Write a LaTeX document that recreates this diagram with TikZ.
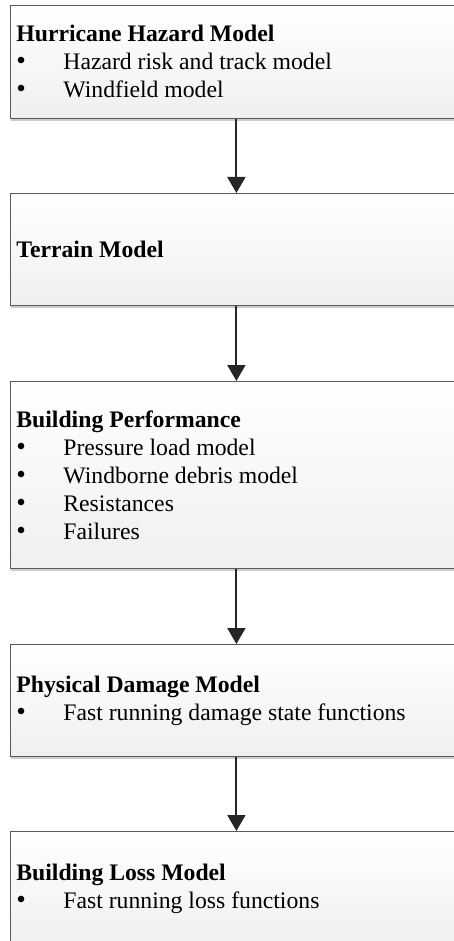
\documentclass[tikz,border=0pt]{standalone}
\usepackage{fontspec}
\setmainfont{Liberation Serif}
\usetikzlibrary{arrows.meta,shadows}

\tikzset{
  modelbox/.style={draw=gray!70!black, line width=0.8pt, top color=white, bottom color=gray!12,
    anchor=north west, text width=440pt, inner xsep=6pt, inner ysep=0pt, align=flush left,
    font=\fontsize{23.7}{28}\selectfont,
    drop shadow={shadow xshift=1pt, shadow yshift=-2.5pt, opacity=0.4}},
  flow/.style={line width=2pt, black!85, -{Triangle[width=18pt,length=16pt]}}
}
\newcommand{\itm}[1]{\makebox[47pt][l]{\smash{\scalebox{1.15}{\textbullet}}}#1}

\begin{document}
\begin{tikzpicture}[x=1pt,y=-1pt]
\useasboundingbox (0,0) rectangle (454,941);

% model stages
\node[modelbox, minimum height=113pt] (hazard) at (10,5)
  {\textbf{Hurricane Hazard Model}\\ \itm{Hazard risk and track model}\\ \itm{Windfield model}};
\node[modelbox, minimum height=112pt] (terrain) at (10,193)
  {\textbf{Terrain Model}};
\node[modelbox, minimum height=187pt] (perf) at (10,381)
  {\textbf{Building Performance}\\ \itm{Pressure load model}\\ \itm{Windborne debris model}\\
   \itm{Resistances}\\ \itm{Failures}};
\node[modelbox, minimum height=112pt] (damage) at (10,644)
  {\textbf{Physical Damage Model}\\ \itm{Fast running damage state functions}};
\node[modelbox, minimum height=114pt] (loss) at (10,831)
  {\textbf{Building Loss Model}\\ \itm{Fast running loss functions}};

% arrows
\draw[flow] (hazard.south) -- (terrain.north);
\draw[flow] (terrain.south) -- (perf.north);
\draw[flow] (perf.south) -- (damage.north);
\draw[flow] (damage.south) -- (loss.north);

\end{tikzpicture}
\end{document}
